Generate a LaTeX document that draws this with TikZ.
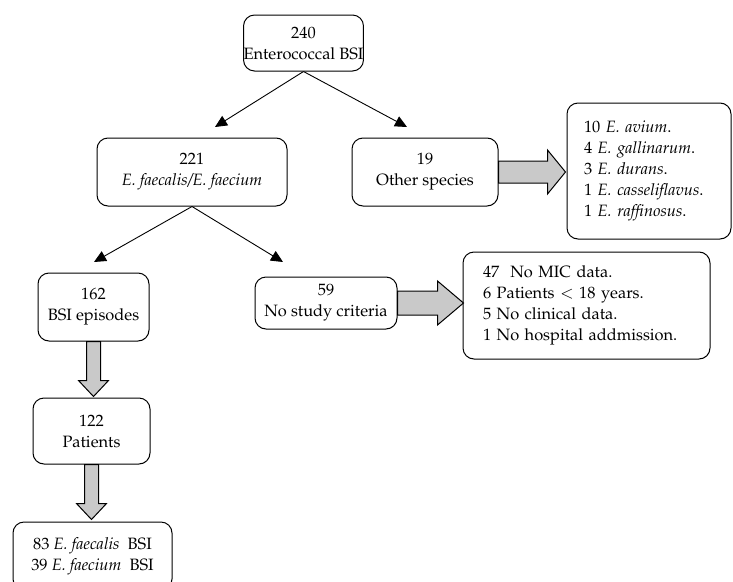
\documentclass[tikz,border=0pt]{standalone}
\usepackage[T1]{fontenc}
\usepackage{mathpazo}
\usetikzlibrary{arrows.meta}
\begin{document}
\begin{tikzpicture}[x=1pt,y=-1pt,
  box/.style={draw,line width=1pt,rounded corners=11pt,inner sep=0pt,
    font=\fontsize{16.4}{21}\selectfont,align=center},
  listbox/.style={box,align=left},
  link/.style={line width=0.9pt,-{Triangle[length=12pt,width=11pt]}},
  blockarrow/.style={draw,line width=1pt,fill=black!21,line join=miter}]
\useasboundingbox (0,0) rectangle (733,581);

\node[box,minimum width=117pt,minimum height=56pt] (top) at (303.5,43) {240\\Enterococcal BSI};
\node[box,minimum width=190pt,minimum height=68pt] (ef) at (192,172) {221\\\textit{E. faecalis/E. faecium}};
\node[box,minimum width=146pt,minimum height=68pt] (other) at (425,172) {19\\Other species};
\node[listbox,minimum width=164pt,minimum height=136pt,text width=130pt] (spp) at (649,171)
  {\mbox{10 \textit{E. avium}.}\\\mbox{4 \textit{E. gallinarum}.}\\\mbox{3 \textit{E. durans}.}\\\mbox{1 \textit{E. casseliflavus}.}\\\mbox{1 \textit{E. raffinosus}.}};
\node[box,minimum width=111pt,minimum height=68pt] (epi) at (93.5,307) {162\\BSI episodes};
\node[box,minimum width=142pt,minimum height=52pt] (nosc) at (326,303) {59\\No study criteria};
\node[listbox,minimum width=247pt,minimum height=107pt,text width=207pt] (excl) at (586.5,305.5)
  {\mbox{47\ \ No MIC data.}\\\mbox{6 Patients $<$ 18 years.}\\\mbox{5 No clinical data.}\\\mbox{1 No hospital addmission.}};
\node[box,minimum width=159pt,minimum height=68pt] (fin) at (92.5,556)
  {83 \textit{E. faecalis}\ \ BSI\\39 \textit{E. faecium}\ \ BSI};
\node[box,minimum width=117pt,minimum height=66pt] (pat) at (91.5,431) {122\\Patients};

\coordinate (t1) at (215,127);
\coordinate (t2) at (407,127);
\coordinate (t3) at (94,262);
\coordinate (t4) at (283,262);
\draw[link] (top.south) -- (t1);
\draw[link] (top.south) -- (t2);
\draw[link] (ef.south) -- (t3);
\draw[link] (ef.south) -- (t4);

\draw[blockarrow] (other.east) +(0,-11) -- +(49,-11) -- +(49,-22) -- +(67,0)
  -- +(49,22) -- +(49,11) -- +(0,11) -- cycle;
\draw[blockarrow] (nosc.east) +(0,-12) -- +(40,-12) -- +(40,-22) -- +(66,0)
  -- +(40,22) -- +(40,12) -- +(0,12) -- cycle;
\draw[blockarrow] (epi.south) +(-7,0) -- +(-7,39) -- +(-15,39) -- +(0,55)
  -- +(15,39) -- +(7,39) -- +(7,0) -- cycle;
\draw[blockarrow] (pat.south) +(-7,0) -- +(-7,39) -- +(-15,39) -- +(0,55)
  -- +(15,39) -- +(7,39) -- +(7,0) -- cycle;
\end{tikzpicture}
\end{document}
